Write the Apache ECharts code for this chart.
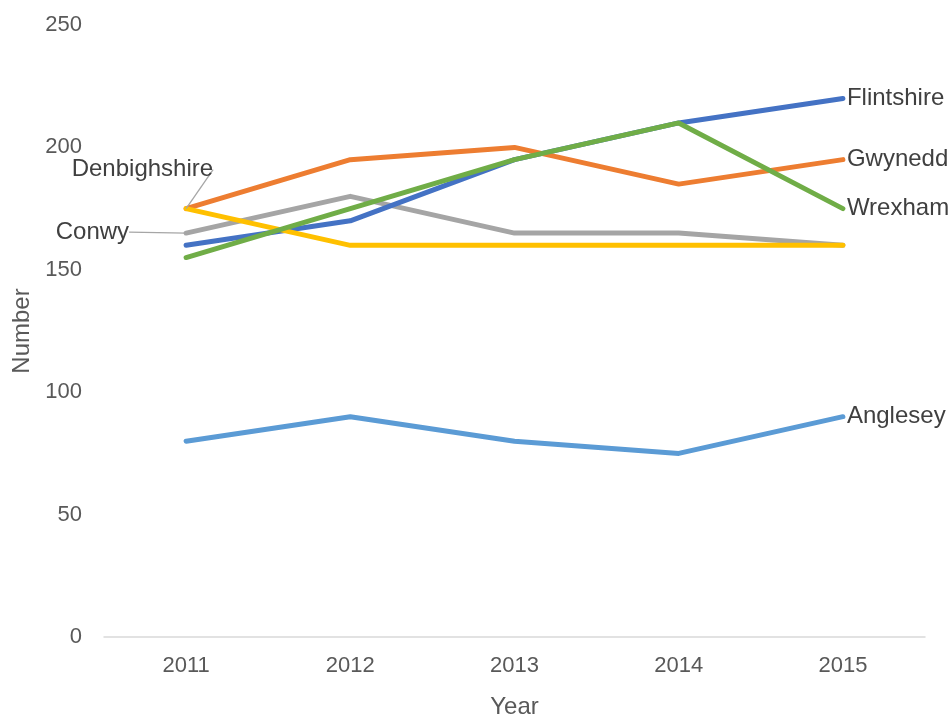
<!DOCTYPE html>
<html>
<head>
<meta charset="utf-8">
<script src="https://cdn.jsdelivr.net/npm/echarts@6/dist/echarts.min.js"></script>
<style>
  html, body { margin: 0; padding: 0; background: #fff; }
  #chart { width: 952px; height: 715px; }
</style>
</head>
<body>
<div id="chart"></div>
<script>
const years = ['2011', '2012', '2013', '2014', '2015']
const yTicks = [0, 50, 100, 150, 200, 250]

const flintshire = [160, 170, 195, 210, 220]
const gwynedd = [175, 195, 200, 185, 195]
const conwy = [165, 180, 165, 165, 160]
const denbighshire = [175, 160, 160, 160, 160]
const anglesey = [80, 90, 80, 75, 90]
const wrexham = [155, 175, 195, 210, 175]

const font = "'Liberation Sans', Arial, sans-serif"

// right side: label at last point, left side: label at first point with a leader line
function rightSeries (name, data, color) {
  return {
    name: name,
    type: 'line',
    data: data,
    symbol: 'none',
    lineStyle: { width: 5, color: color, cap: 'round', join: 'round' },
    itemStyle: { color: color },
    endLabel: {
      show: true,
      formatter: '{a}',
      distance: 4,
      color: '#404040',
      fontSize: 24,
      fontFamily: font
    }
  }
}

function leftSeries (name, data, color, offset) {
  const items = data.map((v, i) => i === 0 ? {
    value: v,
    label: {
      show: true,
      formatter: name,
      position: 'left',
      verticalAlign: 'top',
      distance: 5,
      offset: offset,
      color: '#404040',
      fontSize: 24,
      fontFamily: font
    },
    labelLine: { show: true, lineStyle: { color: '#a6a6a6', width: 1.3 } }
  } : v)
  return {
    name: name,
    type: 'line',
    data: items,
    symbol: 'circle',
    symbolSize: 0,
    showSymbol: true,
    lineStyle: { width: 5, color: color, cap: 'round', join: 'round' },
    itemStyle: { color: color }
  }
}

const chart = echarts.init(document.getElementById('chart'))
chart.setOption({
  animation: false,
  grid: { left: 104, right: 27, top: 25, bottom: 78, outerBoundsMode: 'none' },
  xAxis: {
    type: 'category',
    data: years,
    boundaryGap: true,
    name: 'Year',
    nameLocation: 'middle',
    nameGap: 58,
    nameTextStyle: { color: '#595959', fontSize: 24, fontFamily: font },
    axisLine: { lineStyle: { color: '#d9d9d9', width: 1.5 } },
    axisTick: { show: false },
    axisLabel: { color: '#595959', fontSize: 22, fontFamily: font, margin: 18 }
  },
  yAxis: {
    type: 'value',
    min: yTicks[0],
    max: yTicks[yTicks.length - 1],
    interval: 50,
    name: 'Number',
    nameLocation: 'middle',
    nameGap: 70,
    nameTextStyle: { color: '#595959', fontSize: 24, fontFamily: font },
    axisLine: { show: false },
    axisTick: { show: false },
    splitLine: { show: false },
    axisLabel: { color: '#595959', fontSize: 22, fontFamily: font, margin: 22 }
  },
  series: [
    leftSeries('Conwy', conwy, '#A5A5A5', [-52, -13]),
    rightSeries('Flintshire', flintshire, '#4472C4'),
    rightSeries('Gwynedd', gwynedd, '#ED7D31'),
    leftSeries('Denbighshire', denbighshire, '#FFC000', [32, -51]),
    rightSeries('Anglesey', anglesey, '#5B9BD5'),
    rightSeries('Wrexham', wrexham, '#70AD47')
  ]
})
</script>
</body>
</html>
